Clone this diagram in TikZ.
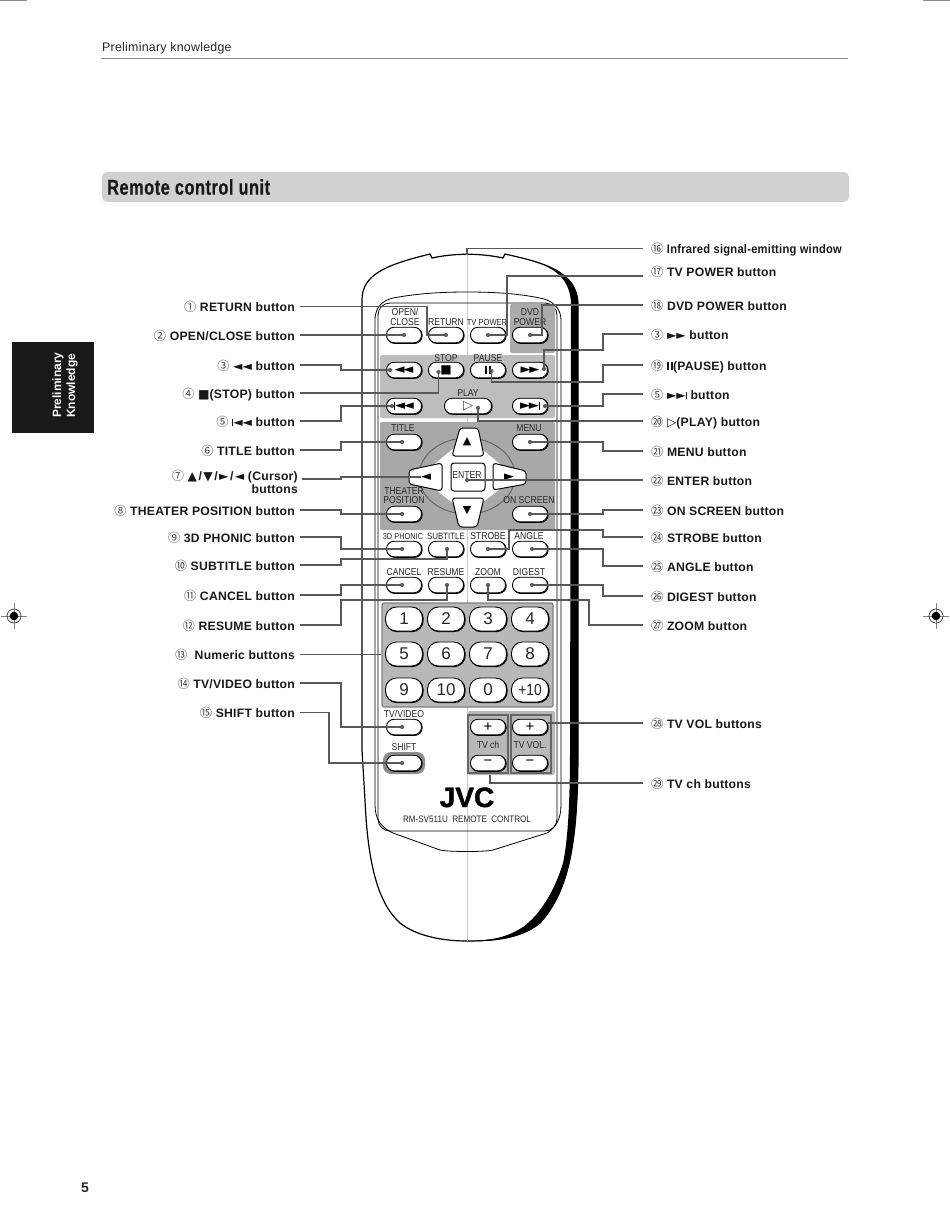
\documentclass[tikz,border=0pt]{standalone}
\usepackage{fontspec}
\setmainfont{Liberation Sans}
\newfontfamily\cjkf{Noto Sans CJK JP}
\newfontfamily\symf{DejaVu Sans}
\newfontfamily\lblf[LetterSpace=2]{Liberation Sans}
\newfontfamily\narrowf[FakeStretch=.9,LetterSpace=2]{Liberation Sans}
\newfontfamily\btnf[FakeStretch=.86]{Liberation Sans}
\newfontfamily\titlef[FakeStretch=.76,LetterSpace=2.5,FakeBold=.4]{Liberation Sans}
\newfontfamily\jvcf[FakeBold=1.5]{Liberation Sans}
\newcommand{\fsz}[1]{\fontsize{#1}{#1}\selectfont}
\newcommand{\cn}[1]{{\cjkf\mdseries\color{black!75}#1}}
\newcommand{\smb}[1]{{\symf\mdseries #1}}
\newcommand{\vbar}{\rule[-.03em]{.09em}{.62em}}
\newcommand{\pausebars}{\rule{.2em}{.68em}\kern.1em\rule{.2em}{.68em}}
\definecolor{pnlgray}{gray}{.72}
\definecolor{curgray}{gray}{.66}
\definecolor{bargray}{gray}{.82}
\begin{document}
\begin{tikzpicture}[
  x=1pt, y=-1pt,
  lbl/.style={font=\lblf\bfseries\fsz{12.2}, text=black!90, text height=10, text depth=0pt, inner ysep=0pt, inner xsep=5pt, anchor=east},
  lbr/.style={font=\lblf\bfseries\fsz{12.2}, text=black!90, text height=10, text depth=0pt, inner ysep=0pt, inner xsep=8pt, anchor=west},
  wire/.style={draw=black!65, line width=1.15pt},
  dotn/.style={circle, fill=black!62, minimum size=4.2, inner sep=0pt},
  btn/.style={draw, fill=white, line width=.9pt, rounded corners=7.5, minimum width=35, minimum height=15.5, inner sep=0pt,
    preaction={draw, line width=1.1pt, transform canvas={shift={(.6pt,-.6pt)}}}},
  numkey/.style={btn, rounded corners=11, minimum width=37, minimum height=24, font=\fsz{17}, text=black!85},
  symkey/.style={btn, font=\symf\fsz{13}},
  btntxt/.style={font=\btnf\fsz{10}, text=black!85, text height=7, text depth=0pt, inner sep=0pt},
  panel/.style={fill=pnlgray, rounded corners=2, inner sep=0pt},
  curkey/.style={draw, fill=white, line width=1pt, rounded corners=3},
  arrowt/.style={font=\symf\fsz{13}, inner sep=0pt}
]
  \useasboundingbox (0,0) rectangle (950,1229);

  % Hlavicka stranky
  \draw[black!45, line width=1pt] (0,.5) -- (27,.5);
  \draw[black!45, line width=1pt] (923,.5) -- (950,.5);
  \node[font=\lblf\fsz{12.4}, text=black!85, anchor=west, inner sep=0pt] (hdr) at (102,48.5) {Preliminary knowledge};
  \draw[black!45, line width=1pt] (101,58) -- (848,58);
  \node[fill=bargray, rounded corners=5, minimum width=747, minimum height=30, inner sep=0pt] (bar) at (475.5,187) {};
  \node[font=\titlef\bfseries\fsz{21.5}, text=black!90, anchor=west, inner sep=0pt] (ttl) at (107,187) {Remote control unit};
  \node[fill=black!90, minimum width=82, minimum height=91, inner sep=0pt] (tab) at (53,387.5) {};
  \node[font=\bfseries\fsz{12}, text=white, rotate=90, anchor=west, inner sep=0pt] (tabA) at (58,418) {Preliminary};
  \node[font=\bfseries\fsz{12}, text=white, rotate=90, anchor=west, inner sep=0pt] (tabB) at (72,418) {Knowledge};
  \node[font=\bfseries\fsz{14}, text=black!85, inner sep=0pt] (page) at (85,1188) {5};

  % Tiskove znacky
  \draw[black!50, line width=.8pt] (1,616) -- (27,616) (14,603) -- (14,629);
  \draw[black!70, line width=.8pt] (14,616) circle (7);
  \fill[black] (14,616) circle (4.3);
  \draw[black!50, line width=.8pt] (923,616) -- (949,616) (936,603) -- (936,629);
  \draw[black!70, line width=.8pt] (936,616) circle (7);
  \fill[black] (936,616) circle (4.3);

  % Telo ovladace
  \draw[fill=white, line width=1.2pt] (430,254) -- (432,258) .. controls (455,253) and (480,253) .. (503,258) -- (505,254)
    .. controls (540,262) and (578,270) .. (578,305) -- (578,750)
    .. controls (578,840) and (570,890) .. (540,923)
    .. controls (525,935) and (505,941) .. (467,941)
    .. controls (440,941) and (415,935) .. (400,923)
    .. controls (380,905) and (368,870) .. (365,800)
    -- (362,750) -- (362,300) .. controls (362,275) and (385,265) .. cycle;
  \fill[black] (535,262) .. controls (555,268) and (571,280) .. (571,305) -- (570,750)
    .. controls (570,800) and (568,840) .. (563,863)
    .. controls (555,890) and (540,915) .. (523,927)
    .. controls (512,934) and (500,940) .. (470,941)
    .. controls (505,942) and (525,935) .. (540,923)
    .. controls (570,890) and (578,840) .. (578,750) -- (578,305)
    .. controls (578,280) and (560,270) .. cycle;
  \draw[black!20, line width=.6pt] (467,254) -- (467,941);
  \draw[line width=.8pt] (375,320) .. controls (375,305) and (385,300) .. (393,298)
    .. controls (420,293) and (445,292) .. (467,292) .. controls (490,292) and (515,293) .. (540,298)
    .. controls (552,300) and (561,308) .. (561,320) -- (561,805)
    .. controls (561,820) and (555,828) .. (547,833) -- (493,850)
    .. controls (485,852) and (450,852) .. (440,850) -- (393,833)
    .. controls (382,828) and (375,820) .. (375,805) -- cycle;
  \draw[line width=.8pt, rounded corners=12] (378,303) rectangle (557,831);

  % Sede plochy
  \node[panel, fill=black!33, minimum width=45, minimum height=49] (pnlDvd) at (532.5,328.5) {};
  \node[panel, fill=black!26, minimum width=175, minimum height=63] (pnlPlay) at (467.5,386.5) {};
  \node[panel, fill=curgray, minimum width=175, minimum height=108] (pnlCur) at (467.5,476) {};
  \node[panel, draw=black!50, line width=1.2pt, minimum width=171, minimum height=104] (pnlNum) at (467.5,655) {};
  \node[panel, fill=black!45, rounded corners=8, minimum width=42, minimum height=22] (pnlShift) at (404,763) {};
  \node[panel, minimum width=87, minimum height=64] (pnlTv) at (511.5,743) {};
  \node[panel, draw=black!60, line width=1.2pt, rounded corners=0, minimum width=40, minimum height=58] (pnlCh) at (488,744) {};
  \node[panel, draw=black!60, line width=1.2pt, rounded corners=0, minimum width=40, minimum height=58] (pnlVol) at (531,744) {};

  % Kurzorovy kriz
  \fill[white] (467,437) -- (516,477) -- (467,514) -- (419,477) -- cycle;
  \draw[black!60, line width=1pt] (467,476) ellipse (48 and 38);
  \draw[curkey] (460,428) -- (478,428) -- (484,456) -- (452,456) -- cycle;
  \draw[curkey] (452,498) -- (484,498) -- (477,527) -- (459,527) -- cycle;
  \draw[curkey] (409,470) -- (442,463) -- (442,491) -- (409,484) -- cycle;
  \draw[curkey] (493,463) -- (526,471) -- (526,484) -- (493,490) -- cycle;
  \node[arrowt, font=\symf\fsz{11}] (tUp) at (467,442) {▲};
  \node[arrowt, font=\symf\fsz{11}] (tDown) at (467,511) {▼};
  \node[arrowt] (tLeft) at (426,477) {◄};
  \node[arrowt] (tRight) at (509,477) {►};
  \node[draw, fill=white, line width=1pt, rounded corners=3, minimum width=34, minimum height=28, inner sep=0pt] (btnEnter) at (468,477) {};
  \node[btntxt] (txtEnter) at (467,475) {ENTER};

  % Tlacitka
  \node[btn] (btnOpen) at (404,335) {};
  \node[btn] (btnReturn) at (446,335) {};
  \node[btn] (btnTvPower) at (488,335) {};
  \node[btn] (btnDvd) at (530,335) {};
  \node[symkey] (btnRew) at (404,370) {◄\kern-.1em◄};
  \node[symkey, font=\symf\fsz{12}] (btnStop) at (446,370) {■};
  \node[symkey, font=\fsz{11}] (btnPause) at (488,370) {\pausebars};
  \node[symkey] (btnFfw) at (530,370) {►\kern-.1em►};
  \node[symkey] (btnPrev) at (404,406) {\vbar◄\kern-.1em◄};
  \node[btn, minimum width=47, font=\symf\fsz{13}, text=black!70] (btnPlay) at (468,406) {▷};
  \node[symkey] (btnNext) at (530,406) {►\kern-.1em►\vbar};
  \node[btn] (btnTitle) at (404,442) {};
  \node[btn] (btnMenu) at (530,442) {};
  \node[btn] (btnTheater) at (404,514) {};
  \node[btn] (btnOnScreen) at (530,514) {};
  \node[btn] (btn3D) at (404,549) {};
  \node[btn] (btnSubtitle) at (446,549) {};
  \node[btn] (btnStrobe) at (488,549) {};
  \node[btn] (btnAngle) at (530,549) {};
  \node[btn] (btnCancel) at (404,585) {};
  \node[btn] (btnResume) at (446,585) {};
  \node[btn] (btnZoom) at (488,585) {};
  \node[btn] (btnDigest) at (530,585) {};
  \node[numkey] (key1) at (404,619) {1};
  \node[numkey] (key2) at (446,619) {2};
  \node[numkey] (key3) at (488,619) {3};
  \node[numkey] (key4) at (530,619) {4};
  \node[numkey] (key5) at (404,654) {5};
  \node[numkey] (key6) at (446,654) {6};
  \node[numkey] (key7) at (488,654) {7};
  \node[numkey] (key8) at (530,654) {8};
  \node[numkey] (key9) at (404,690) {9};
  \node[numkey] (key10) at (446,690) {10};
  \node[numkey] (key0) at (488,690) {0};
  \node[numkey, font=\btnf\fsz{16}] (keyPlus) at (530,690) {+10};
  \node[btn] (btnTvVideo) at (404,727) {};
  \node[btn] (btnShift) at (404,763) {};
  \node[btn, font=\fsz{15}] (btnChUp) at (488,727) {+};
  \node[btn, font=\fsz{15}] (btnChDown) at (488,763) {−};
  \node[btn, font=\fsz{15}] (btnVolUp) at (530,727) {+};
  \node[btn, font=\fsz{15}] (btnVolDown) at (530,763) {−};

  % Popisky na ovladaci
  \node[btntxt] (txtOpen) at (405,312) {OPEN/};
  \node[btntxt] (txtClose) at (405,322) {CLOSE};
  \node[btntxt] (txtReturn) at (446,322) {RETURN};
  \node[btntxt, font=\btnf\fsz{8.8}] (txtTvPower) at (487,322) {TV POWER};
  \node[btntxt] (txtDvd) at (530,312) {DVD};
  \node[btntxt] (txtPower) at (530,322) {POWER};
  \node[btntxt] (txtStop) at (446,358) {STOP};
  \node[btntxt] (txtPause) at (488,358) {PAUSE};
  \node[btntxt] (txtPlay) at (468,393) {PLAY};
  \node[btntxt] (txtTitle) at (403,428) {TITLE};
  \node[btntxt] (txtMenu) at (529,428) {MENU};
  \node[btntxt] (txtTheater) at (404,491) {THEATER};
  \node[btntxt] (txtPosition) at (404,500) {POSITION};
  \node[btntxt] (txtOnScreen) at (529,500) {ON SCREEN};
  \node[btntxt, font=\btnf\fsz{8.6}] (txt3D) at (403,536) {3D PHONIC};
  \node[btntxt, font=\btnf\fsz{9.2}] (txtSubtitle) at (446,536) {SUBTITLE};
  \node[btntxt] (txtStrobe) at (488,536) {STROBE};
  \node[btntxt] (txtAngle) at (529,536) {ANGLE};
  \node[btntxt] (txtCancel) at (404,572) {CANCEL};
  \node[btntxt] (txtResume) at (446,572) {RESUME};
  \node[btntxt] (txtZoom) at (488,572) {ZOOM};
  \node[btntxt] (txtDigest) at (529,572) {DIGEST};
  \node[btntxt] (txtTvVideo) at (404,714) {TV/VIDEO};
  \node[btntxt] (txtShift) at (404,747) {SHIFT};
  \node[btntxt] (txtCh) at (488,745) {TV ch};
  \node[btntxt] (txtVol) at (530,745) {TV VOL.};
  \node[font=\jvcf\bfseries\fsz{28}, text height=20, text depth=0pt, inner sep=0pt] (logo) at (467,797) {JVC};
  \node[font=\btnf\fsz{9.4}, text=black!85, inner sep=0pt] (model) at (467,819) {RM-SV511U\ \ REMOTE\ \ CONTROL};

  % Tecky
  \node[dotn] (dOpen) at (404,335) {};
  \node[dotn] (dReturn) at (446,335) {};
  \node[dotn] (dTvPower) at (488,335) {};
  \node[dotn] (dDvd) at (530,335) {};
  \node[dotn] (dRew) at (390,370) {};
  \node[dotn] (dStop) at (438.5,372) {};
  \node[dotn] (dPause) at (491.5,371) {};
  \node[dotn] (dFfw) at (544,369) {};
  \node[dotn] (dPrev) at (392,406) {};
  \node[dotn] (dPlay) at (478,408) {};
  \node[dotn] (dNext) at (545,406) {};
  \node[dotn] (dTitle) at (402,442) {};
  \node[dotn] (dMenu) at (530,442) {};
  \node[dotn] (dEnter) at (467,480) {};
  \node[dotn] (dTheater) at (402,514) {};
  \node[dotn] (dOnScreen) at (530,514) {};
  \node[dotn] (d3D) at (402,549) {};
  \node[dotn] (dSubtitle) at (447,549) {};
  \node[dotn] (dStrobe) at (488,549) {};
  \node[dotn] (dAngle) at (532,549) {};
  \node[dotn] (dCancel) at (402,585) {};
  \node[dotn] (dResume) at (447,585) {};
  \node[dotn] (dZoom) at (488,585) {};
  \node[dotn] (dDigest) at (532,585) {};
  \node[dotn] (dTvVideo) at (402,727) {};
  \node[dotn] (dShift) at (402,763) {};
  \coordinate (cWin) at (467,255);
  \coordinate (cCh) at (490,775);
  \coordinate (w7) at (302,479);
  \coordinate (w17) at (643,276);

  % Popisky vlevo
  \node[lbl] (lbReturn) at (300,306.5) {\cn{①} RETURN button};
  \node[lbl] (lbOpen) at (300,335) {\cn{②} OPEN/CLOSE button};
  \node[lbl] (lbRew) at (300,365) {\cn{③} \smb{◄◄} button};
  \node[lbl] (lbStop) at (300,393) {\cn{④} \smb{■}(STOP) button};
  \node[lbl] (lbPrev) at (300,421) {\cn{⑤} \smb{\vbar◄◄} button};
  \node[lbl] (lbTitle) at (300,450) {\cn{⑥} TITLE button};
  \node[lbl, align=right, text height=, text depth=, inner xsep=4pt] (lbCursor) at (302,481.5) {\cn{⑦} \smb{▲}\kern1.5pt/\kern1.5pt\smb{▼}\kern1.5pt/\kern1.5pt\smb{►}\kern1.5pt/\kern1.5pt\smb{◄} (Cursor)\\[1pt]buttons};
  \node[lbl] (lbTheater) at (300,510) {\cn{⑧} THEATER POSITION button};
  \node[lbl] (lb3D) at (300,537) {\cn{⑨} 3D PHONIC button};
  \node[lbl] (lbSubtitle) at (300,565) {\cn{⑩} SUBTITLE button};
  \node[lbl] (lbCancel) at (300,595) {\cn{⑪} CANCEL button};
  \node[lbl] (lbResume) at (300,625) {\cn{⑫} RESUME button};
  \node[lbl] (lbNum) at (300,654.5) {\cn{⑬}\ \ Numeric buttons};
  \node[lbl] (lbTvVideo) at (300,683) {\cn{⑭} TV/VIDEO button};
  \node[lbl] (lbShift) at (300,712.5) {\cn{⑮} SHIFT button};

  % Popisky vpravo
  \node[lbr, font=\narrowf\bfseries\fsz{12.4}] (lbWin) at (643,248.5) {\cn{⑯} Infrared signal-emitting window};
  \node[lbr] (lbTvPower) at (643,271) {\cn{⑰} TV POWER button};
  \node[lbr] (lbDvd) at (643,305) {\cn{⑱} DVD POWER button};
  \node[lbr] (lbFfw) at (643,334) {\cn{③} \smb{►►} button};
  \node[lbr] (lbPause) at (643,365) {\cn{⑲} \pausebars(PAUSE) button};
  \node[lbr] (lbNext) at (643,394) {\cn{⑤} \smb{►►\vbar} button};
  \node[lbr] (lbPlay) at (643,421) {\cn{⑳} \smb{▷}(PLAY) button};
  \node[lbr] (lbMenu) at (643,451) {\cn{㉑} MENU button};
  \node[lbr] (lbEnter) at (643,480) {\cn{㉒} ENTER button};
  \node[lbr] (lbOnScreen) at (643,510) {\cn{㉓} ON SCREEN button};
  \node[lbr] (lbStrobe) at (643,537) {\cn{㉔} STROBE button};
  \node[lbr] (lbAngle) at (643,566) {\cn{㉕} ANGLE button};
  \node[lbr] (lbDigest) at (643,596) {\cn{㉖} DIGEST button};
  \node[lbr] (lbZoom) at (643,625) {\cn{㉗} ZOOM button};
  \node[lbr] (lbVol) at (643,723) {\cn{㉘} TV VOL buttons};
  \node[lbr] (lbCh) at (643,783) {\cn{㉙} TV ch buttons};

  % Vodice vlevo
  \draw[wire] (lbReturn.east) -| (427,335) -- (dReturn.center);
  \draw[wire] (lbOpen.east) -- (dOpen.center);
  \draw[wire] (lbRew.east) -| (341,370) -- (dRew.center);
  \draw[wire] (lbStop.east) -| (dStop.center);
  \draw[wire] (lbPrev.east) -| (341,406) -- (dPrev.center);
  \draw[wire] (lbTitle.east) -| (341,442) -- (dTitle.center);
  \draw[wire] (w7) -| (341,477) -- (tLeft.west);
  \draw[wire] (lbTheater.east) -| (341,514) -- (dTheater.center);
  \draw[wire] (lb3D.east) -| (341,549) -- (d3D.center);
  \draw[wire] (lbSubtitle.east) -| (341,559) -| (dSubtitle.center);
  \draw[wire] (lbCancel.east) -| (341,585) -- (dCancel.center);
  \draw[wire] (lbResume.east) -| (341,600) -| (dResume.center);
  \draw[wire] (lbNum.east) -- (pnlNum.west |- lbNum.east);
  \draw[wire] (lbTvVideo.east) -| (341,727) -- (dTvVideo.center);
  \draw[wire] (lbShift.east) -| (329,763) -- (dShift.center);

  % Vodice vpravo
  \draw[wire] (lbWin.west) -| (cWin);
  \draw[wire] (w17) -| (507,335) -- (dTvPower.center);
  \draw[wire] (lbDvd.west) -| (542,335) -- (dDvd.center);
  \draw[wire] (lbFfw.west) -| (603,350) -| (dFfw.center);
  \draw[wire] (lbPause.west) -| (603,382) -| (dPause.center);
  \draw[wire] (lbNext.west) -| (603,406) -- (dNext.center);
  \draw[wire] (lbPlay.west) -| (dPlay.center);
  \draw[wire] (lbMenu.west) -| (603,442) -- (dMenu.center);
  \draw[wire] (lbEnter.west) -- (dEnter.center);
  \draw[wire] (lbOnScreen.west) -| (603,514) -- (dOnScreen.center);
  \draw[wire] (lbStrobe.west) -| (603,530) -| (509,549) -- (dStrobe.center);
  \draw[wire] (lbAngle.west) -| (603,549) -- (dAngle.center);
  \draw[wire] (lbDigest.west) -| (603,585) -- (dDigest.center);
  \draw[wire] (lbZoom.west) -| (589,600) -| (dZoom.center);
  \draw[wire] (lbVol.west) -- (btnVolUp.east |- lbVol.west);
  \draw[wire] (lbCh.west) -| (cCh);
\end{tikzpicture}
\end{document}
